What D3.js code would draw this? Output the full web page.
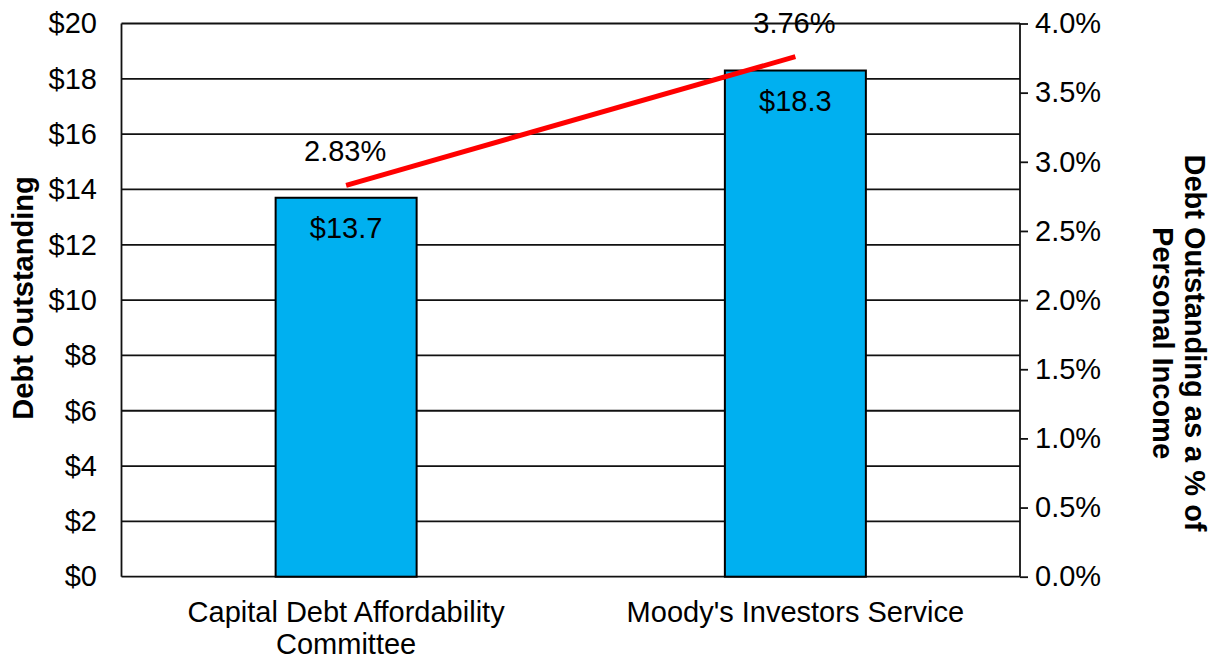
<!DOCTYPE html>
<html><head><meta charset="utf-8">
<script src="https://cdn.jsdelivr.net/npm/d3@7"></script>
<style>body{margin:0;background:#fff;}svg{display:block;font-family:"Liberation Sans",Arial,sans-serif;}</style>
</head><body><svg id="c" width="1218" height="658"></svg>
<script>
const categories = [["Capital Debt Affordability","Committee"],["Moody's Investors Service"]];
const debt = [13.7, 18.3];
const pctIncome = [2.83, 3.76];
const leftTicks = [0,2,4,6,8,10,12,14,16,18,20];
const rightTicks = [0,0.5,1,1.5,2,2.5,3,3.5,4];

const FS = 29;
const svg = d3.select("#c");
const L = 121.5, R = 1020, T = 23.5, B = 576.7;
const x = d3.scaleBand().domain(d3.range(categories.length)).range([L, R]).paddingInner(0).paddingOuter(0);
const y = d3.scaleLinear().domain([0,20]).range([B, T]);
const y2 = d3.scaleLinear().domain([0,4]).range([B, T]);
const bw = 141;

// gridlines
svg.append("g").selectAll("line").data(leftTicks).join("line")
  .attr("x1", L).attr("x2", R).attr("y1", d=>y(d)).attr("y2", d=>y(d))
  .attr("stroke","#111").attr("stroke-width",1.8);
// left axis line
svg.append("line").attr("x1",L).attr("x2",L).attr("y1",T).attr("y2",B).attr("stroke","#111").attr("stroke-width",1.8);

// left axis labels
const ly = d3.axisLeft(y).tickValues(leftTicks).tickSize(0).tickPadding(0).tickFormat(d=>"$"+d);
const gL = svg.append("g").attr("transform",`translate(97,0)`).call(ly);
gL.select(".domain").remove();
gL.selectAll("text").attr("font-size",FS).attr("fill","#000").attr("font-family","Liberation Sans, Arial, sans-serif");

// right axis
const ry = d3.axisRight(y2).tickValues(rightTicks).tickSize(8).tickPadding(7).tickFormat(d=>d.toFixed(1)+"%");
const gR = svg.append("g").attr("transform",`translate(${R},0)`).call(ry);
gR.select(".domain").attr("stroke","#111").attr("stroke-width",1.8).attr("d",`M0,${T}V${B}`);
gR.selectAll(".tick line").attr("stroke","#111").attr("stroke-width",1.8);
gR.selectAll("text").attr("font-size",FS).attr("fill","#000").attr("font-family","Liberation Sans, Arial, sans-serif");

// bars
const cx = i => x(i) + x.bandwidth()/2;
svg.append("g").selectAll("rect").data(debt).join("rect")
  .attr("x",(d,i)=>cx(i)-bw/2).attr("width",bw)
  .attr("y",d=>y(d)).attr("height",d=>B-y(d))
  .attr("fill","#00B0F0").attr("stroke","#000").attr("stroke-width",2);

// bar labels
svg.append("g").selectAll("text").data(debt).join("text")
  .attr("x",(d,i)=>cx(i)).attr("y",d=>y(d)+40)
  .attr("text-anchor","middle").attr("font-size",FS).attr("fill","#000")
  .text(d=>"$"+d.toFixed(1));

// line
const line = d3.line().x((d,i)=>cx(i)).y(d=>y2(d));
svg.append("path").datum(pctIncome).attr("d",line).attr("fill","none")
  .attr("stroke","#FF0000").attr("stroke-width",5);

svg.append("g").selectAll("text").data(pctIncome).join("text")
  .attr("x",(d,i)=>cx(i)-1).attr("y",d=>y2(d)-24)
  .attr("text-anchor","middle").attr("font-size",FS).attr("fill","#000")
  .text(d=>d.toFixed(2)+"%");

// category labels
categories.forEach((lines,i)=>{
  lines.forEach((t,j)=>{
    svg.append("text").attr("x",cx(i)).attr("y",622+j*32).attr("text-anchor","middle")
      .attr("font-size",FS).attr("fill","#000").text(t);
  });
});

// axis titles
svg.append("text").attr("transform",`translate(33,298) rotate(-90)`)
  .attr("text-anchor","middle").attr("font-size",FS).attr("font-weight","bold").text("Debt Outstanding");
const rt = svg.append("text").attr("transform",`translate(1185,343) rotate(90)`)
  .attr("text-anchor","middle").attr("font-size",FS).attr("font-weight","bold");
rt.append("tspan").attr("x",0).attr("y",0).text("Debt Outstanding as a % of");
rt.append("tspan").attr("x",0).attr("y",32).text("Personal Income");
</script></body></html>
